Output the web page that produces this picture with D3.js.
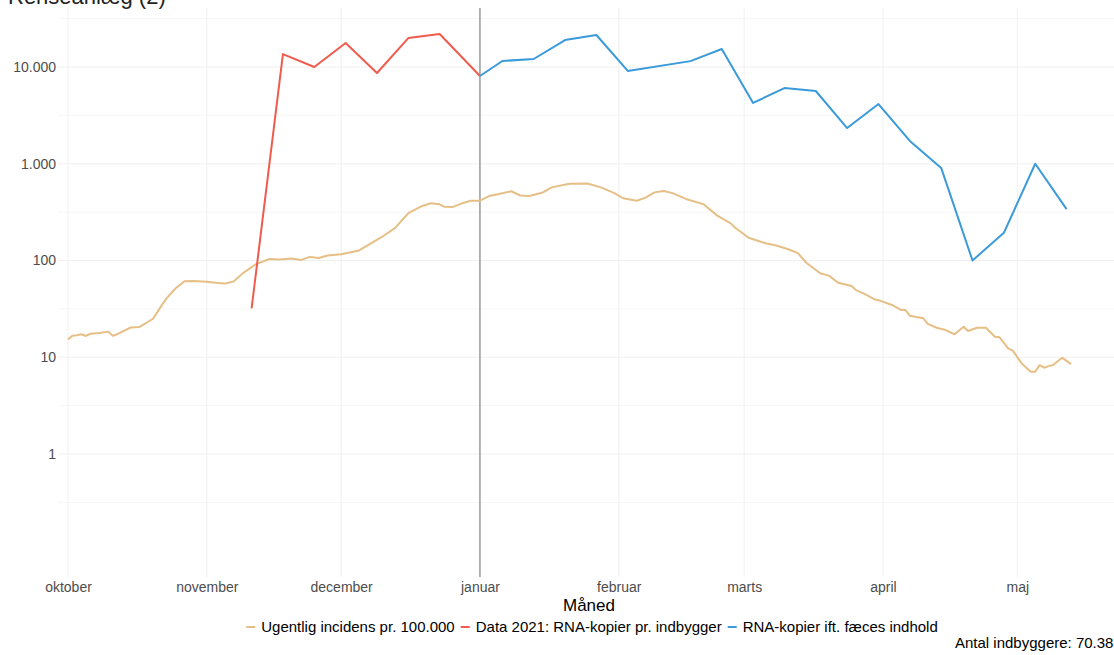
<!DOCTYPE html>
<html>
<head>
<meta charset="utf-8">
<script src="https://cdn.jsdelivr.net/npm/d3@7"></script>
<style>
  html, body { margin: 0; padding: 0; background: #fff; }
  svg { display: block; font-family: "Liberation Sans", Arial, sans-serif; }
</style>
</head>
<body>
<svg id="chart" width="1114" height="655"></svg>
<script>
// ---------- DATA ----------
const monthTicks = ["2020-10-01","2020-11-01","2020-12-01","2021-01-01","2021-02-01","2021-03-01","2021-04-01","2021-05-01"];
const monthLabels = ["oktober","november","december","januar","februar","marts","april","maj"];
const yTicks = [1, 10, 100, 1000, 10000];
const yMinorTicks = [0.316, 3.16, 31.6, 316, 3162, 31623];

const incDates = ["2020-10-01","2020-10-02","2020-10-03","2020-10-04","2020-10-05","2020-10-06","2020-10-08","2020-10-10","2020-10-11","2020-10-12",
  "2020-10-15","2020-10-17","2020-10-20","2020-10-22","2020-10-23","2020-10-25","2020-10-27","2020-10-29","2020-11-01","2020-11-03",
  "2020-11-05","2020-11-07","2020-11-09","2020-11-12","2020-11-15","2020-11-17","2020-11-20","2020-11-22","2020-11-24","2020-11-26",
  "2020-11-28","2020-12-01","2020-12-05","2020-12-07","2020-12-10","2020-12-13","2020-12-16","2020-12-19","2020-12-21","2020-12-23",
  "2020-12-24","2020-12-26","2020-12-28","2020-12-30","2021-01-01","2021-01-03","2021-01-05","2021-01-08","2021-01-10","2021-01-12",
  "2021-01-15","2021-01-17","2021-01-21","2021-01-25","2021-01-28","2021-01-31","2021-02-02","2021-02-05","2021-02-07","2021-02-09",
  "2021-02-11","2021-02-13","2021-02-16","2021-02-20","2021-02-23","2021-02-26","2021-02-27","2021-03-02","2021-03-04","2021-03-06",
  "2021-03-08","2021-03-11","2021-03-13","2021-03-15","2021-03-18","2021-03-20","2021-03-22","2021-03-25","2021-03-26","2021-03-28",
  "2021-03-30","2021-03-31","2021-04-03","2021-04-05","2021-04-06","2021-04-07","2021-04-10","2021-04-11","2021-04-13","2021-04-15",
  "2021-04-17","2021-04-19","2021-04-20","2021-04-22","2021-04-24","2021-04-26","2021-04-27","2021-04-29","2021-04-30","2021-05-02",
  "2021-05-04","2021-05-05","2021-05-06","2021-05-07","2021-05-08","2021-05-09","2021-05-11","2021-05-13"];
const incValues = [15.3,16.7,16.9,17.3,16.6,17.5,17.8,18.4,16.7,17.3,
  20.3,20.6,25,34.8,40.6,51.4,60.9,61.5,60.4,58.8,
  57.7,60.6,73.6,91.8,103.6,102.4,104.8,101,109,106,
  112.5,116,127,144,174,216,308,364,390,381,
  360,358,390,415,415,463,483,520,470,464,
  504,570,620,625,570,497,440,415,446,506,
  523,497,433,380,291,242,218,172,160,150,
  144,130,119,93.6,73.7,69.4,58.9,54.4,49.4,44.9,
  39.8,38.9,34.7,30.8,30.8,26.9,25.3,22.1,20.2,19.1,
  17.3,20.7,18.7,20.2,20.2,16.3,16.1,12.3,11.7,8.6,
  7.1,7.1,8.3,7.8,8.1,8.3,9.9,8.5];

const rnaDates = ["2020-11-11","2020-11-18","2020-11-25","2020-12-02","2020-12-09","2020-12-16","2020-12-23","2021-01-01"];
const rnaValues = [32, 13600, 10000, 17700, 8670, 19900, 21900, 8070];

const faecesDates = ["2021-01-01","2021-01-06","2021-01-13","2021-01-20","2021-01-27","2021-02-03","2021-02-17","2021-02-24",
  "2021-03-03","2021-03-10","2021-03-17","2021-03-24","2021-03-31","2021-04-07","2021-04-14","2021-04-21","2021-04-28","2021-05-05","2021-05-12"];
const faecesValues = [8070, 11540, 12100, 19000, 21400, 9100, 11500, 15350,
  4250, 6060, 5650, 2340, 4140, 1720, 906, 100, 193, 1000, 340];

const seriesNames = ["Ugentlig incidens pr. 100.000", "Data 2021: RNA-kopier pr. indbygger", "RNA-kopier ift. fæces indhold"];
const vlineDate = "2021-01-01";
const titleText = "Renseanlæg (2)";
const captionText = "Antal indbyggere: 70.384";
const xTitle = "Måned";

// ---------- STYLE / LAYOUT ----------
const colors = ["#E6BF86", "#EF5B4D", "#3A9ADA"];
const panel = { left: 58, right: 1120, top: 8, bottom: 577 };
const parse = d3.timeParse("%Y-%m-%d");

const svg = d3.select("#chart");

const x = d3.scaleTime()
  .domain([parse("2020-10-01"), parse("2021-05-01")])
  .range([68, 1017.3]);
const y = d3.scaleLog()
  .domain([1, 10000])
  .range([454, 67]);

const loc = d3.formatLocale({ decimal: ",", thousands: ".", grouping: [3], currency: ["", " kr."] });
const fmt = loc.format(",d");

// gridlines
const grid = svg.append("g");
grid.selectAll("line.hmin").data(yMinorTicks).join("line")
  .attr("x1", panel.left).attr("x2", panel.right)
  .attr("y1", d => y(d)).attr("y2", d => y(d))
  .attr("stroke", "#F6F6F6").attr("stroke-width", 1);
grid.selectAll("line.hmaj").data(yTicks).join("line")
  .attr("x1", panel.left).attr("x2", panel.right)
  .attr("y1", d => y(d)).attr("y2", d => y(d))
  .attr("stroke", "#F0F0F0").attr("stroke-width", 1);
grid.selectAll("line.vmaj").data(monthTicks.map(parse)).join("line")
  .attr("x1", d => x(d)).attr("x2", d => x(d))
  .attr("y1", panel.top).attr("y2", panel.bottom)
  .attr("stroke", "#F0F0F0").attr("stroke-width", 1);

// axes
const xAxis = d3.axisBottom(x)
  .tickValues(monthTicks.map(parse))
  .tickFormat((d, i) => monthLabels[i])
  .tickSize(0).tickPadding(5);
const gx = svg.append("g").attr("transform", `translate(0,${panel.bottom})`).call(xAxis);
gx.select(".domain").remove();
gx.selectAll("text").attr("font-size", 14).attr("fill", "#4D4D4D")
  .attr("font-family", "'Liberation Sans', Arial, sans-serif");

const yAxis = d3.axisLeft(y)
  .tickValues(yTicks)
  .tickFormat(d => fmt(d))
  .tickSize(0).tickPadding(2);
const gy = svg.append("g").attr("transform", `translate(${panel.left},0)`).call(yAxis);
gy.select(".domain").remove();
gy.selectAll("text").attr("font-size", 14).attr("fill", "#4D4D4D")
  .attr("font-family", "'Liberation Sans', Arial, sans-serif");

// vertical reference line
svg.append("line")
  .attr("x1", x(parse(vlineDate))).attr("x2", x(parse(vlineDate)))
  .attr("y1", panel.top).attr("y2", panel.bottom)
  .attr("stroke", "#6E6E6E").attr("stroke-width", 1);

// lines
const line = d3.line().x(d => x(d.date)).y(d => y(d.value));
const series = [
  incDates.map((d, i) => ({ date: parse(d), value: incValues[i] })),
  rnaDates.map((d, i) => ({ date: parse(d), value: rnaValues[i] })),
  faecesDates.map((d, i) => ({ date: parse(d), value: faecesValues[i] }))
];
series.forEach((s, i) => {
  svg.append("path").datum(s)
    .attr("d", line)
    .attr("fill", "none")
    .attr("stroke", colors[i])
    .attr("stroke-width", 2)
    .attr("stroke-linejoin", "round");
});

// title (cropped at top, as in the reference)
svg.append("text").attr("x", 8).attr("y", 4)
  .attr("font-size", 22).attr("fill", "#222").text(titleText);

// x axis title
svg.append("text").attr("x", (panel.left + panel.right) / 2).attr("y", 611)
  .attr("text-anchor", "middle").attr("font-size", 17).attr("fill", "#000").text(xTitle);

// legend
const legend = svg.append("g");
const keyW = 9, keyGap = 6, itemGap = 6;
let cx = 0;
seriesNames.forEach((name, i) => {
  const g = legend.append("g");
  g.append("line").attr("x1", 0).attr("x2", keyW).attr("y1", 0).attr("y2", 0)
    .attr("stroke", colors[i]).attr("stroke-width", 2);
  const t = g.append("text").attr("x", keyW + keyGap).attr("y", 5)
    .attr("font-size", 15).attr("fill", "#000").text(name);
  const w = keyW + keyGap + t.node().getComputedTextLength();
  g.attr("transform", `translate(${cx},0)`);
  cx += w + itemGap;
});
const totalW = cx - itemGap;
legend.attr("transform", `translate(${592 - totalW / 2},627)`);

// caption (cropped at right edge, as in the reference)
svg.append("text").attr("x", 955).attr("y", 648)
  .attr("text-anchor", "start").attr("font-size", 15).attr("fill", "#000").text(captionText);
</script>
</body>
</html>
